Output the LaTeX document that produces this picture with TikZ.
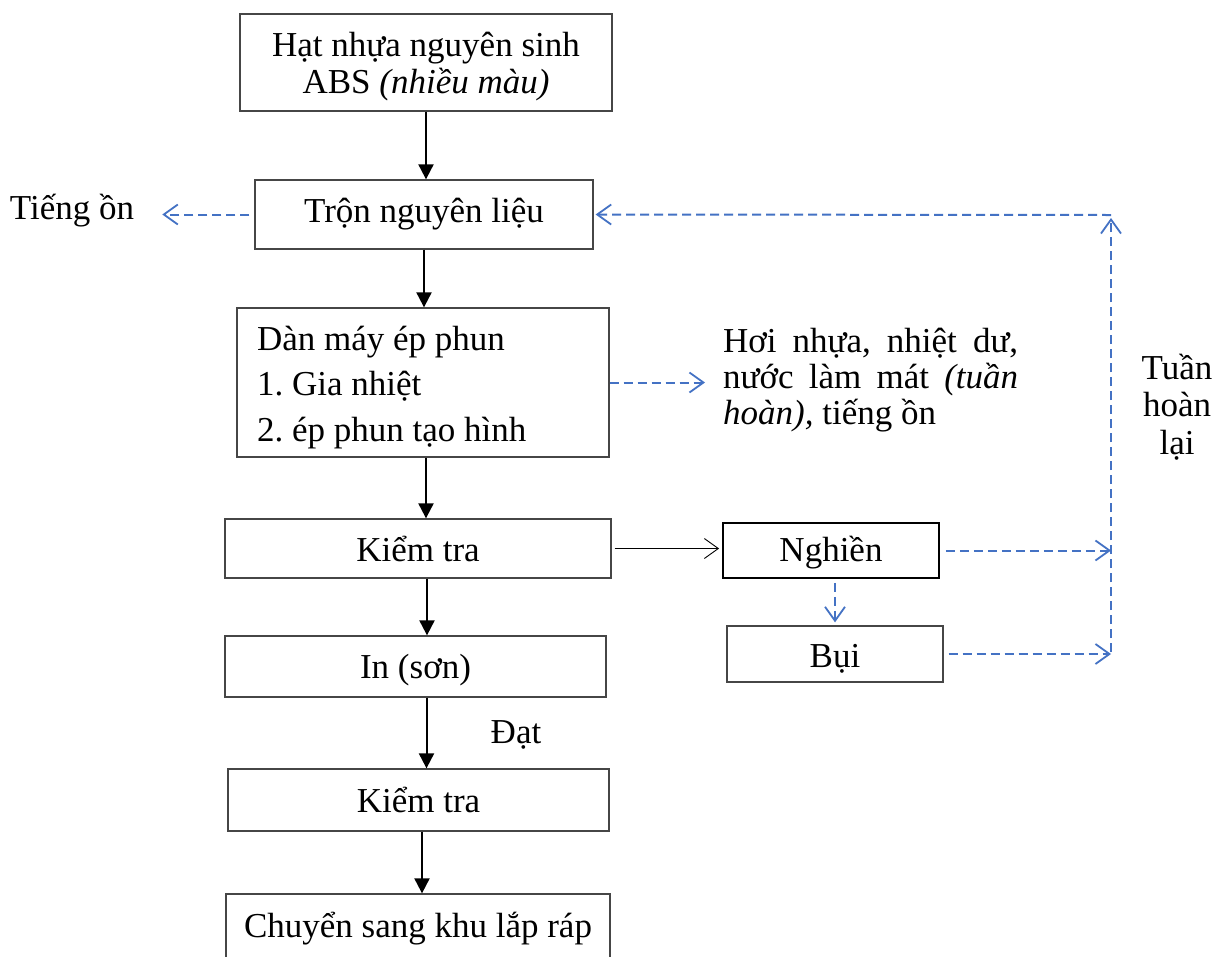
\documentclass[tikz,border=0pt]{standalone}
\usepackage{fontspec}
\setmainfont{Liberation Serif}
\usetikzlibrary{arrows.meta}

\definecolor{flowblue}{RGB}{68,114,196}
\definecolor{boxline}{RGB}{70,70,70}

\tikzset{
  proc/.style={draw=boxline, line width=1.3pt, rectangle, inner sep=0pt, align=center},
  label/.style={inner sep=0pt},
  mainflow/.style={line width=2pt, -{Triangle[length=15pt,width=15pt]}},
  sideflow/.style={line width=0.9pt, -{Straight Barb[length=14pt,width=20pt,line width=0.9pt]}},
  emission/.style={draw=flowblue, line width=2pt, dash pattern=on 9pt off 5pt,
    -{Straight Barb[length=14pt,width=20pt,line width=1.8pt,sep=0pt]}}
}

\begin{document}
\frenchspacing
\begin{tikzpicture}[x=1pt, y=-1pt, font=\fontsize{35}{37}\selectfont]
\clip (0,0) rectangle (1212,956);
\fill[white] (0,0) rectangle (1212,956);

% main process column
\node[proc, minimum width=372pt, minimum height=97pt] (hat) at (426,62.5)
  {\rule{0pt}{32pt}Hạt nhựa nguyên sinh\\ABS \textit{(nhiều màu)}};
\node[proc, minimum width=338pt, minimum height=69pt] (tron) at (424,214.5)
  {Trộn nguyên liệu};
\node[proc, minimum width=372pt, minimum height=149pt, text width=332pt, align=flush left,
      font=\fontsize{35}{45.5}\selectfont] (dan) at (423,382.5)
  {\rule{0pt}{34pt}Dàn máy ép phun\\1. Gia nhiệt\\2. ép phun tạo hình};
\node[proc, minimum width=386pt, minimum height=59pt] (kt1) at (418,548.5)
  {Kiểm tra};
\node[proc, minimum width=381pt, minimum height=61pt] (inson) at (415.5,666.5)
  {\rule{0pt}{31pt}In (sơn)};
\node[proc, minimum width=381pt, minimum height=62pt] (kt2) at (418.5,800)
  {Kiểm tra};
\node[proc, minimum width=384pt, minimum height=70pt] (chuyen) at (418,929)
  {Chuyển sang khu lắp ráp};

% side branch
\node[proc, draw=black, line width=1.8pt, minimum width=216pt, minimum height=55pt] (nghien) at (831,550.5)
  {\rule{0pt}{30pt}Nghiền};
\node[proc, minimum width=216pt, minimum height=56pt] (bui) at (835,654)
  {\rule{0pt}{33pt}Bụi};

% free labels
\node[label] (tiengon) at (72,211) {Tiếng ồn};
\node[label, anchor=west, align=left, font=\fontsize{35}{36}\selectfont] (hoi) at (723,380)
  {\makebox[295pt][s]{Hơi nhựa, nhiệt dư,}\\
   \makebox[295pt][s]{nước làm mát \textit{(tuần}}\\
   \textit{hoàn),} tiếng ồn};
\node[label, align=center, font=\fontsize{35}{37.5}\selectfont] (tuanhoan) at (1177,407) {Tuần\\hoàn\\lại};
\node[label] (dat) at (516,735) {Đạt};

% return loop corners
\coordinate (loopTop) at (1111,215);
\coordinate (loopBot) at (1111,652);

% main flow arrows
\draw[mainflow] (hat.south) -- (hat.south |- tron.north);
\draw[mainflow] (tron.south) -- (tron.south |- dan.north);
\draw[mainflow] ([xshift=3pt]dan.south) -- ([xshift=3pt]dan.south |- kt1.north);
\draw[mainflow] ([xshift=9pt]kt1.south) -- ([xshift=9pt]kt1.south |- inson.north);
\draw[mainflow] ([xshift=11pt]inson.south) -- ([xshift=11pt]inson.south |- kt2.north);
\draw[mainflow] ([xshift=3.5pt]kt2.south) -- ([xshift=3.5pt]kt2.south |- chuyen.north);

% inspection to grinding
\draw[sideflow, shorten <=3pt, shorten >=3pt] (kt1.east) -- (kt1.east -| nghien.west);

% emissions
\draw[emission, shorten <=5pt, shorten >=28pt] (tron.west) -- (tron.west -| tiengon.east);
\draw[emission, shorten >=18pt] (dan.east) -- (dan.east -| hoi.west);
\draw[emission, shorten <=4pt, shorten >=3pt] ([xshift=4pt]nghien.south) -- ([xshift=4pt]nghien.south |- bui.north);

% recirculation loop
\draw[emission, shorten <=6pt] (nghien.east) -- (nghien.east -| loopTop);
\draw[emission, shorten <=5pt] (bui.east) -- (bui.east -| loopTop);
\draw[emission, shorten >=3pt] (loopBot) -- (loopTop);
\draw[emission, shorten >=2pt] (loopTop) -- (tron.east);
\end{tikzpicture}
\end{document}
